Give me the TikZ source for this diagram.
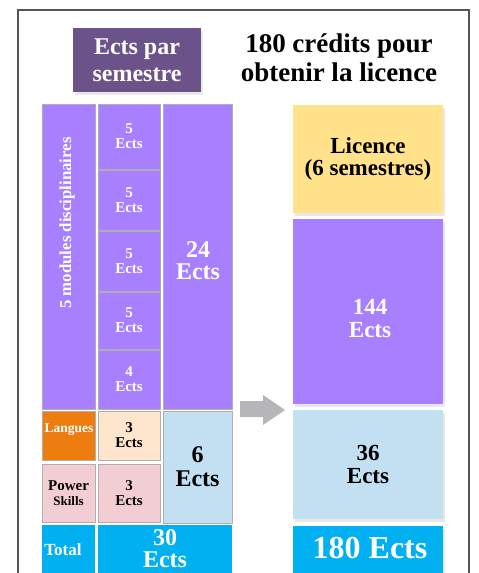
\documentclass[tikz,border=0pt]{standalone}
\usepackage{fontspec}
\setmainfont{Liberation Serif}
\usetikzlibrary{shadows}
\definecolor{cPurple}{RGB}{168,128,255}
\definecolor{cDark}{RGB}{107,82,137}
\definecolor{cOrange}{RGB}{237,125,15}
\definecolor{cPeach}{RGB}{253,229,206}
\definecolor{cPink}{RGB}{242,206,212}
\definecolor{cLight}{RGB}{194,224,242}
\definecolor{cCyan}{RGB}{0,176,240}
\definecolor{cYellow}{RGB}{255,226,138}
\definecolor{cArrow}{RGB}{182,182,184}
\definecolor{cCell}{RGB}{175,175,178}
\definecolor{cFrame}{RGB}{85,85,85}
\begin{document}
\begin{tikzpicture}[x=1pt,y=-1pt,
  cellbox/.style={rectangle, inner sep=0pt, outer sep=0pt, draw=cCell, line width=1pt},
  bigbox/.style={rectangle, inner sep=0pt, outer sep=0pt,
    drop shadow={opacity=0.18, shadow xshift=1.5pt, shadow yshift=-2.5pt}},
  smalltxt/.style={align=center, font=\fontsize{15}{15}\selectfont\bfseries},
  bigtxt/.style={align=center, font=\fontsize{24}{22}\selectfont\bfseries},
  rtxt/.style={align=center, font=\fontsize{23}{23}\selectfont\bfseries}]
\useasboundingbox (0,0) rectangle (479,573);
\fill[white] (0,0) rectangle (479,573);
% frame
\draw[cFrame, line width=1.2pt] (18,580) -- (18,10) -- (469,10) -- (469,580);

% header
\node[bigbox, fill=cDark, minimum width=128pt, minimum height=64pt,
      text=white, align=center, font=\fontsize{24}{27}\selectfont\bfseries]
      (head) at (137,60) {Ects par\\semestre};
\node[align=center, font=\fontsize{27}{29}\selectfont\bfseries] (title) at (339,58)
      {180 crédits pour\\obtenir la licence};

% left column
\node[cellbox, fill=cPurple, minimum width=53pt, minimum height=305pt] (a1) at (68.5,256.5) {};
\node[rotate=90, text=white, font=\fontsize{16.8}{18}\selectfont\bfseries] (tmod) at (67,223) {5 modules disciplinaires};
\node[cellbox, fill=cPurple, minimum width=62pt, minimum height=65pt, text=white, smalltxt] (b1) at (129,136.5) {5\\Ects};
\node[cellbox, fill=cPurple, minimum width=62pt, minimum height=60pt, text=white, smalltxt] (b2) at (129,200) {5\\Ects};
\node[cellbox, fill=cPurple, minimum width=62pt, minimum height=60pt, text=white, smalltxt] (b3) at (129,261) {5\\Ects};
\node[cellbox, fill=cPurple, minimum width=62pt, minimum height=57pt, text=white, smalltxt] (b4) at (129,320.5) {5\\Ects};
\node[cellbox, fill=cPurple, minimum width=62pt, minimum height=59pt, text=white, smalltxt] (b5) at (129,379.5) {4\\Ects};
\node[cellbox, fill=cPurple, minimum width=69pt, minimum height=305pt] (c1) at (197.5,256.5) {};
\node[bigtxt, text=white] (t24) at (198,261) {24\\Ects};

\node[cellbox, fill=cOrange, minimum width=53pt, minimum height=49pt] (a2) at (68.5,435.5) {};
\node[text=white, font=\fontsize{13.5}{15}\selectfont\bfseries] (tlang) at (69,430) {Langues};
\node[cellbox, fill=cPeach, minimum width=62pt, minimum height=49pt, smalltxt] (b6) at (129,435.5) {3\\Ects};
\node[cellbox, fill=cLight, minimum width=69pt, minimum height=112pt, align=center, font=\fontsize{24}{24}\selectfont\bfseries] (c2) at (197.5,467) {6\\Ects};

\node[cellbox, fill=cPink, minimum width=53pt, minimum height=58pt, align=center,
      font=\fontsize{15}{15.5}\selectfont\bfseries] (a3) at (68.5,493) {Power\\{\fontsize{13}{14}\selectfont Skills}};
\node[cellbox, fill=cPink, minimum width=62pt, minimum height=58pt, smalltxt] (b7) at (129,493) {3\\Ects};

\node[cellbox, draw=none, fill=cCyan, minimum width=53pt, minimum height=60pt] (a4) at (68.5,555) {};
\node[text=white, inner sep=1pt, font=\fontsize{17}{18}\selectfont\bfseries] (ttot) at (63,550) {Total};
\node[cellbox, draw=none, fill=cCyan, minimum width=134pt, minimum height=60pt] (b8) at (165,555) {};
\node[text=white, inner sep=1pt, align=center, font=\fontsize{24}{22}\selectfont\bfseries] (t30) at (165,549) {30\\Ects};

% arrow
\fill[cArrow] (240,401) -- (263,401) -- (263,395) -- (285,410) -- (263,425) -- (263,417) -- (240,417) -- cycle;

% right column
\node[bigbox, fill=cYellow, minimum width=150pt, minimum height=108pt, align=center,
      font=\fontsize{23}{22}\selectfont\bfseries] (r1) at (368,159) {Licence\\(6 semestres)};
\node[bigbox, fill=cPurple, minimum width=150pt, minimum height=185pt] (r2) at (368,311.5) {};
\node[rtxt, text=white] (t144) at (370,318.5) {144\\Ects};
\node[bigbox, fill=cLight, minimum width=150pt, minimum height=109pt, rtxt] (r3) at (368,464.5) {36\\Ects};
\node[bigbox, fill=cCyan, minimum width=150pt, minimum height=60pt] (r4) at (368,556) {};
\node[text=white, inner sep=1pt, font=\fontsize{32}{34}\selectfont\bfseries] (t180) at (370,548) {180 Ects};
\end{tikzpicture}
\end{document}
